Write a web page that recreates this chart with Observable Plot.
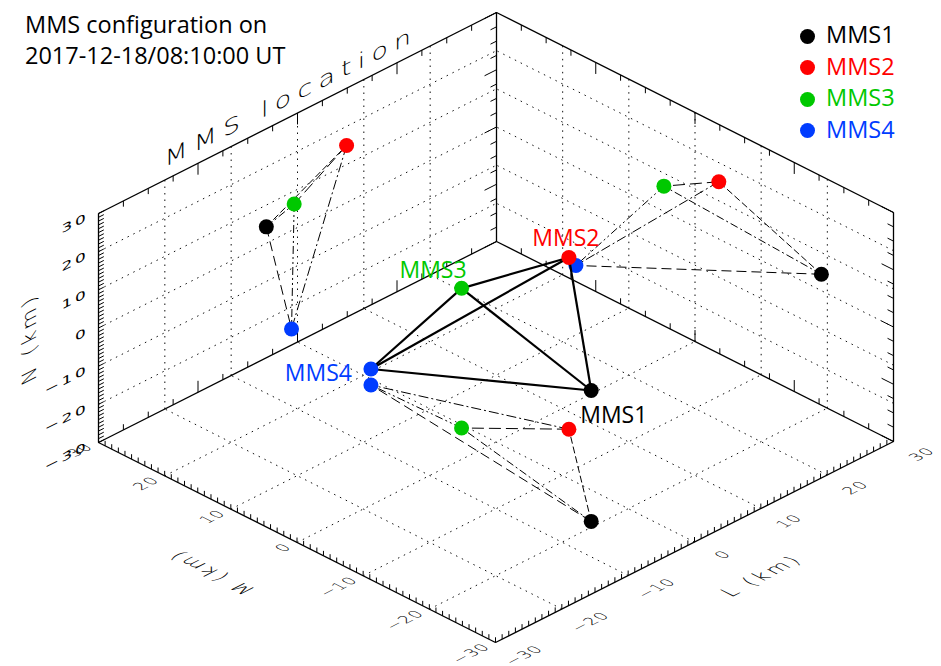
<!DOCTYPE html>
<html><head><meta charset="utf-8">
<script src="https://cdn.jsdelivr.net/npm/d3@7"></script>
<script src="https://cdn.jsdelivr.net/npm/@observablehq/plot@0.6"></script>
<style>
body{margin:0;background:#fff;}
#wrap{position:relative;width:941px;height:666px;font-family:"Open Sans",sans-serif;}
#title{position:absolute;left:25px;top:9px;font-size:23.5px;line-height:31px;color:#000;white-space:nowrap;}
.legItem{position:absolute;font-size:23.5px;line-height:30px;white-space:nowrap;}
.legDot{position:absolute;width:15px;height:15px;border-radius:50%;}
</style></head><body><div id="wrap"></div><script>
// ---- data ----
const craft = ["MMS1", "MMS2", "MMS3", "MMS4"];
const colors = ["#000000", "#ff0000", "#00c800", "#003cff"];
const posL = [-4.7, 7.4, -0.5, -0.9];
const posM = [-19.1, -3.6, 4.7, 18.0];
const posN = [4.3, 15.0, 6.6, -25.8];
const axisRange = [-30, 30];
const tickValues = [-30, -20, -10, 0, 10, 20, 30];
const gridValues = [-20, -10, 0, 10, 20];
const axisTitles = {L: "L (km)", M: "M (km)", N: "N (km)"};
const boxTitle = "MMS location";
const titleLines = ["MMS configuration on", "2017-12-18/08:10:00 UT"];

// ---- oblique 3D projection ----
const VIEW = {Lx: 398, Ly: 201, Mx: -397, My: 200, Nz: 229};
const [lo, hi] = axisRange;
const nrm = v => (v - lo) / (hi - lo);
const px = (L, M, N) => nrm(L) * VIEW.Lx + nrm(M) * VIEW.Mx;
const py = (L, M, N) => nrm(L) * VIEW.Ly + nrm(M) * VIEW.My + nrm(N) * VIEW.Nz;
const seg = (a, b) => ({x1: px(...a), y1: py(...a), x2: px(...b), y2: py(...b)});
const len = Math.hypot(VIEW.Lx, VIEW.Ly);
const uL = [VIEW.Lx / len, -VIEW.Ly / len];
const uM = [VIEW.Mx / len, -VIEW.My / len];

const sc = craft.map((name, i) => ({name, color: colors[i], L: posL[i], M: posM[i], N: posN[i]}));
const views = [
  d => [d.L, hi, d.N],   // wall M = max
  d => [hi, d.M, d.N],   // wall L = max
  d => [d.L, d.M, lo]    // floor N = min
];
const projPts = views.flatMap(f => sc.map(d => { const p = f(d); return {...d, X: px(...p), Y: py(...p)}; }));
const pairs = [[0,1],[0,2],[0,3],[1,2],[1,3],[2,3]];
const pairDash = ["7,3", "8,3,2,3", "10,5", "12,5", "10,3,2,3", "8,3,2,3,2,3"];

// grid
const gridSegs = [];
for (const g of gridValues) {
  gridSegs.push(seg([g, hi, lo], [g, hi, hi]));
  gridSegs.push(seg([lo, hi, g], [hi, hi, g]));
  gridSegs.push(seg([hi, g, lo], [hi, g, hi]));
  gridSegs.push(seg([hi, lo, g], [hi, hi, g]));
  gridSegs.push(seg([g, lo, lo], [g, hi, lo]));
  gridSegs.push(seg([lo, g, lo], [hi, g, lo]));
}
const edges = [
  [[lo,hi,hi],[hi,hi,hi]], [[hi,lo,hi],[hi,hi,hi]], [[lo,hi,lo],[lo,hi,hi]],
  [[hi,hi,lo],[hi,hi,hi]], [[hi,lo,lo],[hi,lo,hi]], [[lo,hi,lo],[hi,hi,lo]],
  [[hi,lo,lo],[hi,hi,lo]], [[lo,lo,lo],[lo,hi,lo]], [[lo,lo,lo],[hi,lo,lo]]
].map(([a, b]) => seg(a, b));

const tickSegs = [];
for (const v of d3.range(lo, hi + 0.5, 1)) {
  tickSegs.push(seg([v, lo, lo], [v, lo, lo + 1.3]));
  tickSegs.push(seg([lo, v, lo], [lo, v, lo + 1.3]));
  tickSegs.push(seg([lo, hi, v], [lo + 0.8, hi, v]));
}
for (const v of d3.range(lo, hi + 0.01, 3.75)) {
  const k = (Math.abs(v) % 15 === 0) ? 2 : 1;
  tickSegs.push(seg([v, hi, hi], [v, hi, hi - 1.5 * k]));
  tickSegs.push(seg([hi, v, hi], [hi, v, hi - 1.5 * k]));
  tickSegs.push(seg([hi, hi, v], [hi - 0.9 * k, hi, v]));
  tickSegs.push(seg([hi, lo, v], [hi, lo + 0.9 * k, v]));
  tickSegs.push(seg([v, hi, lo], [v, hi, lo + 1.5 * k]));
  tickSegs.push(seg([hi, v, lo], [hi, v, lo + 1.5 * k]));
}
const fmt = v => v < 0 ? "\u2212" + Math.abs(v) : String(v);
const tickFont = {fontFamily: "DejaVu Sans", fontWeight: 300, fill: "#000"};

const labelOpts = [
  {textAnchor: "start", dx: -11, dy: 25},
  {textAnchor: "middle", dx: -3, dy: -19},
  {textAnchor: "end", dx: 5, dy: -18},
  {textAnchor: "end", dx: -19, dy: 5}
];

// sheared text groups, in drawing order: [matrix, letter-spacing]
const shearSpecs = [
  [[uL[0], uL[1], -uM[0], -uM[1]], "1px"],   // L tick labels
  [[uL[0], uL[1], -uM[0], -uM[1]], "1px"],   // M tick labels
  [[uL[0], uL[1], 0, 0.6], "3px"],           // N tick labels
  [[uL[0], uL[1], -uM[0], -uM[1]], "3px"],   // L title
  [[uM[0], uM[1], uL[0], uL[1]], "3px"],     // M title
  [[0, -0.9, uL[0], uL[1]], "4px"],          // N title
  [[uL[0], uL[1], 0, 0.72], "7px"]           // box title
];

const marks = [
  Plot.link(gridSegs, {x1: "x1", y1: "y1", x2: "x2", y2: "y2", stroke: "#111", strokeWidth: 1, strokeDasharray: "1.5,5"}),
  Plot.link(edges, {x1: "x1", y1: "y1", x2: "x2", y2: "y2", stroke: "#000", strokeWidth: 1.3}),
  Plot.link(tickSegs, {x1: "x1", y1: "y1", x2: "x2", y2: "y2", stroke: "#000", strokeWidth: 1}),
  ...pairs.map(([a, b], k) => Plot.link(
    views.map(f => seg(f(sc[a]), f(sc[b]))),
    {x1: "x1", y1: "y1", x2: "x2", y2: "y2", stroke: "#000", strokeWidth: 1, strokeDasharray: pairDash[k]})),
  Plot.dot(projPts, {x: "X", y: "Y", fill: "color", r: 7.5}),
  Plot.link(pairs.map(([a, b]) => seg([sc[a].L, sc[a].M, sc[a].N], [sc[b].L, sc[b].M, sc[b].N])),
    {x1: "x1", y1: "y1", x2: "x2", y2: "y2", stroke: "#000", strokeWidth: 2.2}),
  Plot.dot(sc, {x: d => px(d.L, d.M, d.N), y: d => py(d.L, d.M, d.N), fill: "color", r: 7.5}),
  ...labelOpts.map((o, i) => Plot.text([sc[i]], {x: d => px(d.L, d.M, d.N), y: d => py(d.L, d.M, d.N), text: "name",
      fill: "color", fontSize: 23, fontFamily: "Open Sans", lineAnchor: "middle", ...o})),
  // sheared texts (order matches shearSpecs)
  Plot.text(tickValues, {x: v => px(v, lo - 4.3, lo + 0.4), y: v => py(v, lo - 4.3, lo + 0.4), text: fmt,
    textAnchor: "middle", lineAnchor: "middle", fontSize: 15.5, ...tickFont}),
  Plot.text(tickValues, {x: v => px(lo - 1.3, v, lo + 0.4), y: v => py(lo - 1.3, v, lo + 0.4), text: fmt,
    textAnchor: "end", lineAnchor: "middle", fontSize: 15.5, ...tickFont}),
  Plot.text(tickValues, {x: v => px(lo - 1.5, hi, v + 0.6), y: v => py(lo - 1.5, hi, v + 0.6), text: fmt,
    textAnchor: "end", lineAnchor: "middle", fontSize: 19, fontFamily: "DejaVu Sans", fill: "#000"}),
  Plot.text([axisTitles.L], {x: () => px(0, lo - 10.2, lo), y: () => py(0, lo - 10.2, lo), text: d => d,
    textAnchor: "middle", lineAnchor: "middle", fontSize: 20, ...tickFont}),
  Plot.text([axisTitles.M], {x: () => px(lo - 10.9, 2, lo), y: () => py(lo - 10.9, 2, lo), text: d => d,
    textAnchor: "middle", lineAnchor: "middle", fontSize: 20, ...tickFont}),
  Plot.text([axisTitles.N], {x: () => px(lo - 10.4, hi, 6.3), y: () => py(lo - 10.4, hi, 6.3), text: d => d,
    textAnchor: "middle", lineAnchor: "middle", fontSize: 22, ...tickFont}),
  Plot.text([boxTitle], {x: () => px(-1, hi, hi + 5.2), y: () => py(-1, hi, hi + 5.2), text: d => d,
    textAnchor: "middle", lineAnchor: "middle", fontSize: 30, ...tickFont})
];

const svg = Plot.plot({
  width: 941, height: 666, margin: 0,
  x: {domain: [VIEW.Mx, VIEW.Lx], range: [98, 893], axis: null},
  y: {domain: [0, VIEW.Ly + VIEW.My + VIEW.Nz], range: [642, 12], axis: null},
  color: {type: "identity"},
  style: {background: "white", overflow: "visible"},
  marks
});

// lay the text into the 3D planes (shear)
const textGroups = Array.from(svg.children).filter(g => g.querySelector && g.querySelector("text"));
const sheared = textGroups.slice(textGroups.length - shearSpecs.length);
sheared.forEach((g, gi) => {
  const [m, ls] = shearSpecs[gi];
  g.querySelectorAll("text").forEach(t => {
    const tr = t.getAttribute("transform") || "";
    const mt = /translate\(\s*([-\d.e]+)[ ,]+([-\d.e]+)\s*\)/.exec(tr);
    let x = 0, y = 0;
    if (mt) { x = +mt[1]; y = +mt[2]; }
    else {
      x = parseFloat(t.getAttribute("x") || 0); y = parseFloat(t.getAttribute("y") || 0);
      t.removeAttribute("x"); t.removeAttribute("y");
    }
    t.setAttribute("transform", `translate(${x},${y}) matrix(${m.join(",")},0,0)`);
    t.style.letterSpacing = ls;
  });
});

const wrap = document.getElementById("wrap");
wrap.appendChild(svg);
const title = document.createElement("div");
title.id = "title";
title.innerHTML = titleLines.join("<br>");
wrap.appendChild(title);
sc.forEach((d, i) => {
  const cy = 36 + i * 31.5;
  const dot = document.createElement("div");
  dot.className = "legDot"; dot.style.background = d.color;
  dot.style.left = (807 - 7.5) + "px"; dot.style.top = (cy - 7.5) + "px";
  wrap.appendChild(dot);
  const t = document.createElement("div");
  t.className = "legItem"; t.style.color = d.color; t.textContent = d.name;
  t.style.left = "826px"; t.style.top = (cy - 16.8) + "px";
  wrap.appendChild(t);
});
</script></body></html>
